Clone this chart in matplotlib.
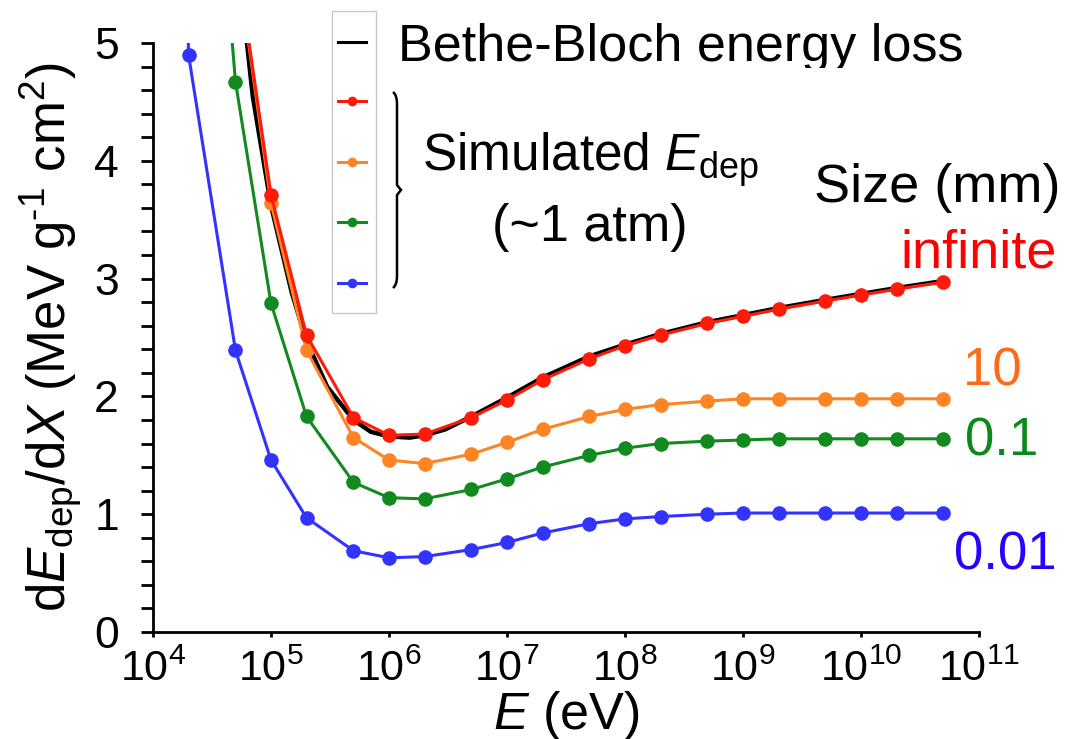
import numpy as np
import matplotlib
matplotlib.use("Agg")
import matplotlib.pyplot as plt
from matplotlib.ticker import LogLocator, MultipleLocator, NullFormatter
from matplotlib.lines import Line2D
from matplotlib.patches import Rectangle, PathPatch
from matplotlib.path import Path

plt.rcParams['font.family'] = ['Liberation Sans', 'DejaVu Sans']
plt.rcParams['mathtext.fontset'] = 'custom'
plt.rcParams['mathtext.rm'] = 'Liberation Sans'
plt.rcParams['mathtext.it'] = 'Liberation Sans:italic'
plt.rcParams['mathtext.bf'] = 'Liberation Sans:bold'

# ---------------- data ----------------
energy = [1e4, 2e4, 5e4, 1e5, 2e5, 5e5, 1e6, 2e6, 5e6, 1e7, 2e7, 5e7, 1e8, 2e8,
          5e8, 1e9, 2e9, 5e9, 1e10, 2e10, 5e10]

size_inf = [None, None, 5.8, 3.71, 2.52, 1.82, 1.67, 1.68, 1.82, 1.97, 2.14, 2.32,
            2.43, 2.52, 2.62, 2.68, 2.74, 2.81, 2.86, 2.91, 2.97]
size_10 = [None, None, 5.8, 3.64, 2.39, 1.65, 1.46, 1.43, 1.51, 1.61, 1.72, 1.83,
           1.89, 1.93, 1.96, 1.98, 1.98, 1.98, 1.98, 1.98, 1.98]
size_01 = [None, 9.5, 4.67, 2.79, 1.83, 1.27, 1.14, 1.13, 1.21, 1.30, 1.40, 1.50,
           1.56, 1.60, 1.62, 1.63, 1.64, 1.64, 1.64, 1.64, 1.64]
size_001 = [20.0, 4.90, 2.39, 1.46, 0.97, 0.69, 0.63, 0.64, 0.70, 0.76, 0.84, 0.92,
            0.96, 0.98, 1.00, 1.01, 1.01, 1.01, 1.01, 1.01, 1.01]

bb_energy = [4e4, 5e4, 7e4, 1e5, 1.5e5, 2e5, 3e5, 5e5, 7e5, 1e6, 1.5e6, 2e6, 3e6,
             5e6, 1e7, 2e7, 5e7, 1e8, 2e8, 5e8, 1e9, 2e9, 5e9, 1e10, 2e10, 5e10]
bb_value = [7.0, 5.9, 4.55, 3.62, 2.88, 2.47, 2.08, 1.80, 1.70, 1.66, 1.65, 1.67,
            1.72, 1.83, 1.99, 2.16, 2.34, 2.44, 2.53, 2.63, 2.69, 2.75, 2.82, 2.87,
            2.92, 2.98]

series_labels = ['infinite', '10', '0.1', '0.01']
series_colors = ['#FF1A0A', '#FF8424', '#138A1F', '#3333FF']
label_colors = ['#FF0000', '#FF6A1A', '#0A8A1A', '#2A00FF']
x_tick_exps = [4, 5, 6, 7, 8, 9, 10, 11]
y_ticks = [0, 1, 2, 3, 4, 5]

W, H = 1077, 739
fig = plt.figure(figsize=(W / 100, H / 100), dpi=100)


def fx(px):
    return px / W


def fy(py):
    return 1 - py / H


ax = fig.add_axes([fx(153), fy(632), fx(979) - fx(153), fy(43) - fy(632)])
ax.set_xscale('log')
ax.set_xlim(1e4, 1e11)
ax.set_ylim(0, 5)

for s in ['top', 'right']:
    ax.spines[s].set_visible(False)
for s in ['left', 'bottom']:
    ax.spines[s].set_linewidth(2.0)

ax.set_xticks([10.0 ** e for e in x_tick_exps])
ax.set_xticklabels([r'$\mathdefault{10^{%d}}$' % e for e in x_tick_exps])
ax.xaxis.set_minor_locator(LogLocator(base=10, subs=np.arange(2, 10)))
ax.xaxis.set_minor_formatter(NullFormatter())
ax.set_yticks(y_ticks)
ax.yaxis.set_minor_locator(MultipleLocator(0.2))
ax.tick_params(axis='x', which='both', direction='out', length=3.5, width=2.0,
               labelsize=31, pad=9)
ax.tick_params(axis='y', which='both', direction='out', length=8.5, width=2.0,
               labelsize=32, pad=16)


def clean(xs, ys):
    pts = [(x, y) for x, y in zip(xs, ys) if y is not None]
    return [p[0] for p in pts], [p[1] for p in pts]


ax.plot(bb_energy, bb_value, color='black', lw=3.2, zorder=2, clip_on=True)
all_series = [size_inf, size_10, size_01, size_001]
for vals, col, z in zip(all_series, series_colors, [5, 4, 3, 3]):
    xs, ys = clean(energy, vals)
    ax.plot(xs, ys, color=col, lw=2.2, marker='o', ms=10.5, mew=0, zorder=z)

ax.set_xlabel(r'$E$ (eV)', fontsize=37.5, labelpad=0)
ax.xaxis.set_label_coords(0.5, -0.096)
ax.set_ylabel(r'd$E_{\mathrm{dep}}$/d$X$ (MeV g$^{\text{-1}}$ cm$^{2}$)',
              fontsize=38)
ax.yaxis.set_label_coords(-0.083, 0.50)

# ---------------- legend (manual) ----------------
fig.patches.append(Rectangle((fx(332), fy(313)), fx(376) - fx(332), fy(11) - fy(313),
                             transform=fig.transFigure, fill=False,
                             edgecolor='#c8c8c8', lw=1.0))
leg_y = [42, 101, 162, 222, 283]
fig.lines.append(Line2D([fx(338), fx(366)], [fy(leg_y[0])] * 2, color='black',
                        lw=2.2, transform=fig.transFigure))
for yy, col in zip(leg_y[1:], series_colors):
    fig.lines.append(Line2D([fx(338), fx(366)], [fy(yy)] * 2, color=col, lw=2.2,
                            transform=fig.transFigure))
    fig.lines.append(Line2D([fx(352)], [fy(yy)], color=col, marker='o', ms=7,
                            mew=0, transform=fig.transFigure))

t_bb = fig.text(fx(398), fy(47), 'Bethe-Bloch energy loss', fontsize=37.5,
                ha='left', va='center')
clip_rect = Rectangle((0, fy(68)), 1, 1 - fy(68), transform=fig.transFigure)
t_bb.set_clip_path(clip_rect)
t_bb.set_clip_on(True)
fig.text(fx(422), fy(160), r'Simulated $E_{\mathrm{dep}}$', fontsize=37,
         ha='left', va='center')
fig.text(fx(590), fy(227), '(~1 atm)', fontsize=37.5, ha='center', va='center')

# brace
bx = [393, 397, 397, 397, 401, 397, 397, 397, 393]
by = [92, 95, 104, 185, 190, 195, 276, 285, 288]
verts = [(fx(a), fy(b)) for a, b in zip(bx, by)]
codes = [Path.MOVETO, Path.CURVE3, Path.CURVE3, Path.LINETO, Path.LINETO,
         Path.LINETO, Path.LINETO, Path.CURVE3, Path.CURVE3]
fig.patches.append(PathPatch(Path(verts, codes), transform=fig.transFigure,
                             fill=False, lw=1.8, edgecolor='black'))

# right labels
fig.text(fx(1060), fy(188), 'Size (mm)', fontsize=39, ha='right', va='center')
label_pos = [(1057, 253), (1022, 372), (1038, 442), (1057, 556)]
label_sizes = [39, 38, 38, 38]
for lab, col, (px, py), fs in zip(series_labels, label_colors, label_pos,
                                  label_sizes):
    fig.text(fx(px), fy(py), lab, fontsize=fs, color=col, ha='right',
             va='center')

fig.savefig('out.png', dpi=100)
